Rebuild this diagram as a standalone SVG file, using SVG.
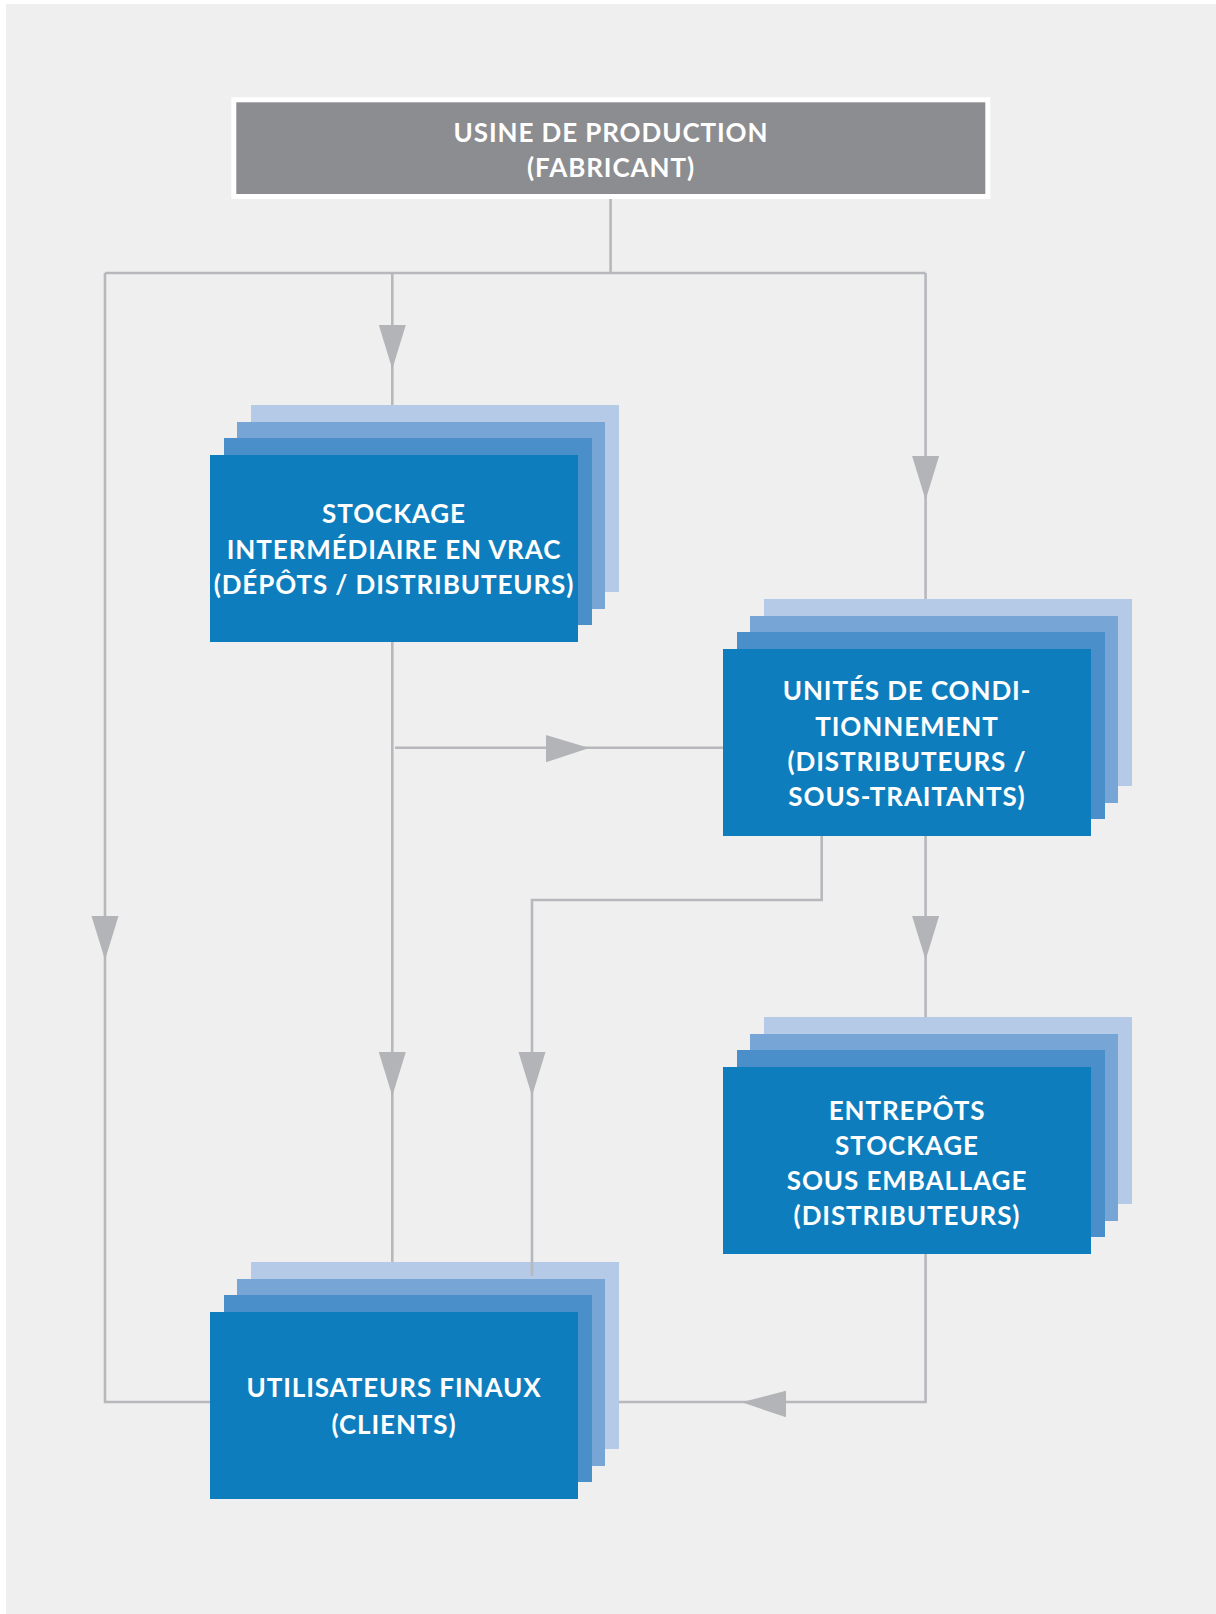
<svg xmlns="http://www.w3.org/2000/svg" width="1216" height="1614" viewBox="0 0 1216 1614">
  <style>
    .lbl { font-family: Lato, "Open Sans", "Liberation Sans", sans-serif; font-weight: 700; font-size: 26px; letter-spacing: 0.9px; fill: #ffffff; text-anchor: middle; }
    .wire { fill: none; stroke: #b7b8bc; stroke-width: 2.6; }
    .head { fill: #b3b4b8; }
    .l1 { fill: #b5cae6; }
    .l2 { fill: #77a5d5; }
    .l3 { fill: #4a8fc9; }
    .l4 { fill: #0e7dbd; }
  </style>
  <defs>
    <!-- four stacked sheets, front sheet at the origin -->
    <g id="stack">
      <rect class="l1" x="41" y="-50" width="368" height="187"/>
      <rect class="l2" x="27" y="-33" width="368" height="187"/>
      <rect class="l3" x="14" y="-17" width="368" height="187"/>
      <rect class="l4" x="0" y="0" width="368" height="187"/>
    </g>
    <polygon id="down" class="head" points="-13.5,0 13.5,0 0,44"/>
  </defs>

  <rect x="0" y="0" width="1216" height="1614" fill="#ffffff"/>
  <rect x="6" y="4" width="1210" height="1610" fill="#efefef"/>

  <!-- connectors drawn under the nodes -->
  <g id="connectors">
    <path class="wire" d="M610.6,194 V273 M105,273 H925.6"/>
    <path class="wire" d="M105,273 V1402 H212"/>
    <path class="wire" d="M392.3,273 V410"/>
    <path class="wire" d="M925.6,273 V602"/>
    <path class="wire" d="M392.3,640 V1263"/>
    <path class="wire" d="M395,747.7 H724"/>
    <path class="wire" d="M821.7,835 V900 H532 V1276"/>
    <path class="wire" d="M925.6,835 V1020"/>
    <path class="wire" d="M925.6,1253 V1402 H617"/>
    <use href="#down" x="392.3" y="325"/>
    <use href="#down" x="925.6" y="456"/>
    <use href="#down" x="105" y="916"/>
    <use href="#down" x="925.6" y="916"/>
    <use href="#down" x="392.3" y="1052"/>
    <use href="#down" x="532" y="1052"/>
    <polygon class="head" points="546,735 546,762.3 589.3,748"/>
    <polygon class="head" points="786,1390.7 786,1417.3 741.7,1402.3"/>
  </g>

  <g id="usine">
    <rect x="231.3" y="97.3" width="759" height="101.7" fill="#ffffff"/>
    <rect x="236.3" y="102.3" width="749" height="91.7" fill="#8c8d90"/>
    <text class="lbl" x="611" y="142">USINE DE PRODUCTION</text>
    <text class="lbl" x="611" y="177">(FABRICANT)</text>
  </g>

  <g id="stockage">
    <use href="#stack" x="210" y="455"/>
    <text class="lbl" x="394" y="523.3">STOCKAGE</text>
    <text class="lbl" x="394" y="559.3">INTERMÉDIAIRE EN VRAC</text>
    <text class="lbl" x="394" y="594">(DÉPÔTS / DISTRIBUTEURS)</text>
  </g>

  <g id="conditionnement">
    <use href="#stack" x="723" y="649"/>
    <text class="lbl" x="907" y="700">UNITÉS DE CONDI-</text>
    <text class="lbl" x="907" y="735.5">TIONNEMENT</text>
    <text class="lbl" x="907" y="771">(DISTRIBUTEURS /</text>
    <text class="lbl" x="907" y="806">SOUS-TRAITANTS)</text>
  </g>

  <g id="entrepots">
    <use href="#stack" x="723" y="1067"/>
    <text class="lbl" x="907" y="1119.5">ENTREPÔTS</text>
    <text class="lbl" x="907" y="1154.5">STOCKAGE</text>
    <text class="lbl" x="907" y="1189.5">SOUS EMBALLAGE</text>
    <text class="lbl" x="907" y="1224.5">(DISTRIBUTEURS)</text>
  </g>

  <g id="utilisateurs">
    <use href="#stack" x="210" y="1312"/>
    <path class="wire" d="M532,1262 V1276"/>
    <text class="lbl" x="394" y="1397">UTILISATEURS FINAUX</text>
    <text class="lbl" x="394" y="1433.5">(CLIENTS)</text>
  </g>
</svg>
